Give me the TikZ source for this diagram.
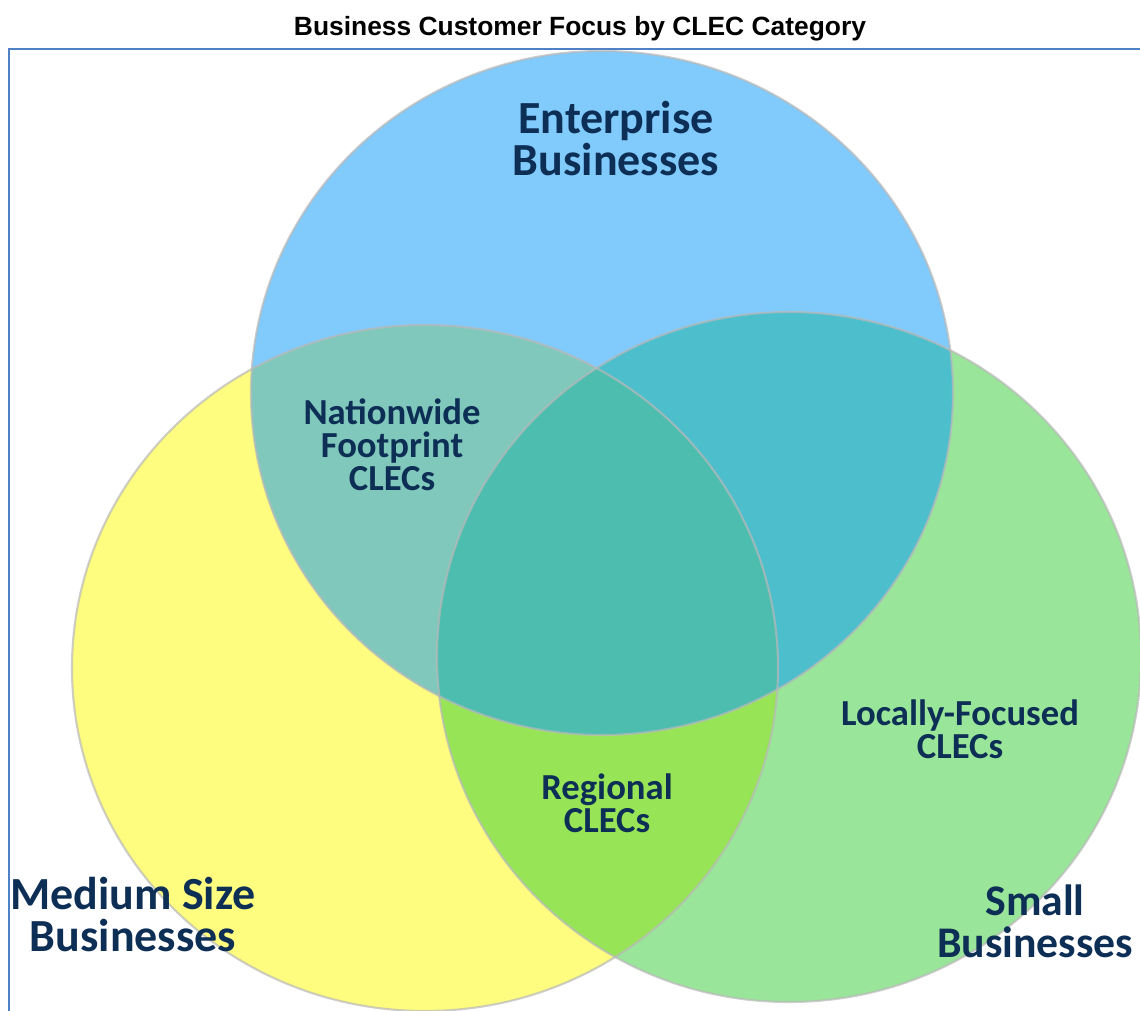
\documentclass[tikz,border=0pt]{standalone}
\usepackage{fontspec}
\setmainfont{Carlito}
\newfontfamily\titlefont{Liberation Sans}

\definecolor{bluedisc}{RGB}{128,202,252}
\definecolor{yellowdisc}{RGB}{255,253,128}
\definecolor{greendisc}{RGB}{153,229,153}
\definecolor{blueyellow}{RGB}{128,200,188}
\definecolor{bluegreen}{RGB}{77,190,204}
\definecolor{yellowgreen}{RGB}{151,229,87}
\definecolor{allthree}{RGB}{76,189,175}
\definecolor{labelnavy}{RGB}{13,46,85}
\definecolor{framecol}{RGB}{79,129,199}
\definecolor{rimgray}{RGB}{185,185,185}

\tikzset{
  rim/.style={draw=rimgray, line width=1.6pt, draw opacity=0.7},
  biglabel/.style={font=\fontsize{34.5}{31.5}\selectfont\bfseries, text=labelnavy, align=center, inner sep=0pt},
  smalllabel/.style={font=\fontsize{27.5}{24.75}\selectfont\bfseries, text=labelnavy, align=center, inner sep=0pt},
}

\def\bluepath{(602,393) ellipse [x radius=351, y radius=342]}
\def\yellowpath{(425,668) ellipse [x radius=353, y radius=343]}
\def\greenpath{(789,657) ellipse [x radius=352, y radius=345]}

\begin{document}
\begin{tikzpicture}[x=0.75pt,y=0.75pt,yscale=-1,xscale=1]
\useasboundingbox (0,0) rectangle (1140,1011);
\clip (0,0) rectangle (1140,1011);

%Frame
\draw [draw=framecol, line width=1.5pt] (9,49) rectangle (1160,1030);

%Shape: Ellipses
\fill [yellowdisc] \yellowpath;
\fill [greendisc] \greenpath;
\fill [bluedisc] \bluepath;
% overlaps
\begin{scope}
  \clip \yellowpath;
  \fill [yellowgreen] \greenpath;
  \fill [blueyellow] \bluepath;
\end{scope}
\begin{scope}
  \clip \greenpath;
  \fill [bluegreen] \bluepath;
\end{scope}
\begin{scope}
  \clip \yellowpath;
  \clip \greenpath;
  \fill [allthree] \bluepath;
\end{scope}
% rims
\draw [rim] \yellowpath;
\draw [rim] \greenpath;
\draw [rim] \bluepath;

% Text Node
\node [font=\titlefont\fontsize{19.8}{21}\selectfont\bfseries, inner sep=0pt] (title) at (580,29) {Business Customer Focus by CLEC Category};
% Text Node
\node [biglabel] (enterprise) at (616,139) {Enterprise\\Businesses};
% Text Node
\node [biglabel] (medium) at (133,915) {Medium Size\\Businesses};
% Text Node
\node [biglabel, font=\fontsize{32.8}{31.5}\selectfont\bfseries] (small) at (1035,921) {Small\\Businesses};
% Text Node
\node [smalllabel] (nationwide) at (392,445) {Nationwide\\Footprint\\CLECs};
% Text Node
\node [smalllabel] (regional) at (607,803) {Regional\\CLECs};
% Text Node
\node [smalllabel] (locally) at (960,729) {Locally-Focused\\CLECs};
\end{tikzpicture}
\end{document}
